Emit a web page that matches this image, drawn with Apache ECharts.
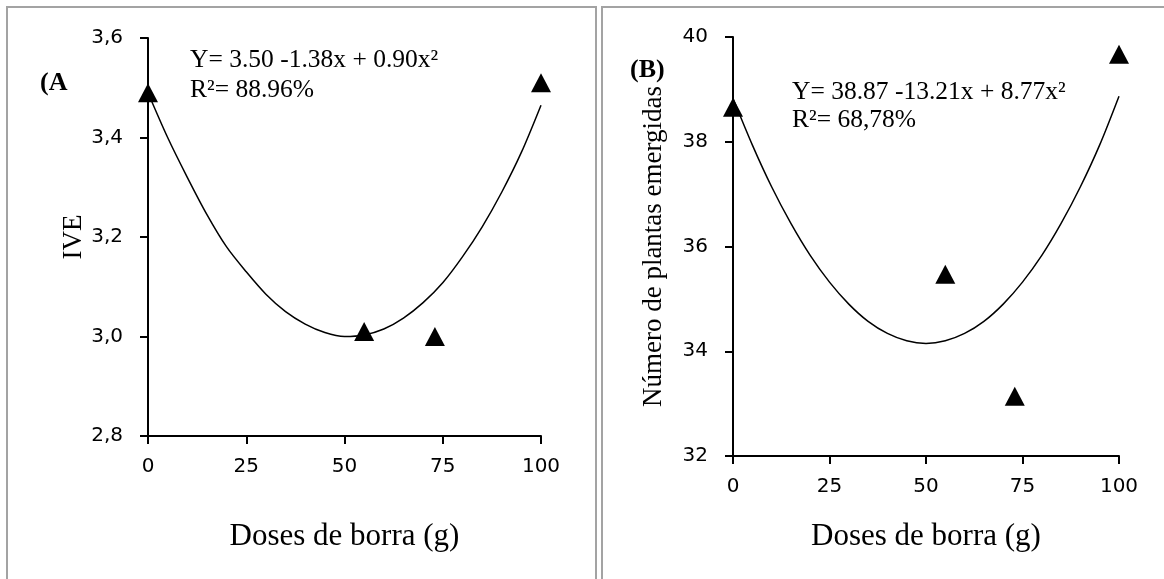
<!DOCTYPE html>
<html lang="pt">
<head>
    <meta charset="UTF-8">
    <title>IVE e plantas emergidas</title>
    <script src="https://cdn.jsdelivr.net/npm/echarts@6/dist/echarts.min.js"></script>
    <style>
        html, body { margin: 0; padding: 0; background: #fff; }
        #chart { width: 1164px; height: 579px; }
    </style>
</head>
<body>
<div id="chart"></div>
<script>
    // observed points (triangles)
    var doses = [0, 55, 73, 100];
    var iveObs = [3.49, 3.01, 3.00, 3.51];
    var plantasObs = [38.66, 35.47, 33.14, 39.67];

    // fitted curves, every 5 g
    var curveX = [0, 5, 10, 15, 20, 25, 30, 35, 40, 45, 50, 55, 60, 65, 70, 75, 80, 85, 90, 95, 100];
    var iveFit = [3.49, 3.40, 3.32, 3.245, 3.18, 3.13, 3.085, 3.05, 3.025, 3.008, 3.0,
                  3.003, 3.015, 3.037, 3.068, 3.108, 3.16, 3.22, 3.29, 3.37, 3.465];
    var plantasFit = [38.83, 37.94, 37.14, 36.44, 35.83, 35.32, 34.9, 34.57, 34.34, 34.2, 34.15,
                      34.2, 34.34, 34.57, 34.9, 35.32, 35.83, 36.44, 37.14, 37.94, 38.87];

    var xTitle = 'Doses de borra (g)';
    var yTitleA = 'IVE';
    var yTitleB = 'Número de plantas emergidas';
    var eqA = ['Y= 3.50 -1.38x + 0.90x²', 'R²= 88.96%'];
    var eqB = ['Y= 38.87 -13.21x + 8.77x²', 'R²= 68,78%'];

    var serif = '"Liberation Serif", "Times New Roman", serif';
    var sans = '"DejaVu Sans", sans-serif';

    function pairs(xs, ys) {
        return xs.map(function (x, i) { return [x, ys[i]]; });
    }

    function xAxisOpt(idx, gap) {
        return {
            type: 'value', gridIndex: idx, min: 0, max: 100, interval: 25,
            name: xTitle, nameLocation: 'middle', nameGap: gap,
            nameTextStyle: { fontFamily: serif, fontSize: 31, color: '#000' },
            axisLine: { lineStyle: { color: '#000', width: 2 } },
            axisTick: { length: 8, lineStyle: { color: '#000', width: 2 } },
            axisLabel: { margin: 21, fontFamily: sans, fontSize: 20, color: '#000' },
            splitLine: { show: false }
        };
    }

    function yAxisOpt(idx, min, max, step, title, gap, fmt) {
        return {
            type: 'value', gridIndex: idx, min: min, max: max, interval: step,
            name: title, nameLocation: 'middle', nameGap: gap, nameRotate: 90,
            nameTextStyle: { fontFamily: serif, fontSize: 27, color: '#000' },
            axisLine: { show: true, lineStyle: { color: '#000', width: 2 } },
            axisTick: { show: true, length: 8, lineStyle: { color: '#000', width: 2 } },
            axisLabel: { margin: 25, fontFamily: sans, fontSize: 20, color: '#000', formatter: fmt },
            splitLine: { show: false }
        };
    }

    function txt(x, y, s, font) {
        return { type: 'text', x: x, y: y, silent: true,
                 style: { text: s, font: font, fill: '#000', verticalAlign: 'middle' } };
    }

    var option = {
        animation: false,
        backgroundColor: '#fff',
        grid: [
            { left: 148, top: 38, width: 393, height: 398 },
            { left: 733, top: 37, width: 386, height: 419 }
        ],
        xAxis: [xAxisOpt(0, 85), xAxisOpt(1, 65)],
        yAxis: [
            yAxisOpt(0, 2.8, 3.6, 0.2, yTitleA, 60, function (v) { return v.toFixed(1).replace('.', ','); }),
            yAxisOpt(1, 32, 40, 2, yTitleB, 66, function (v) { return String(v); })
        ],
        graphic: [
            { type: 'rect', silent: true, shape: { x: 7, y: 7, width: 589, height: 620 },
              style: { fill: 'none', stroke: '#a3a3a3', lineWidth: 2 } },
            { type: 'rect', silent: true, shape: { x: 602, y: 7, width: 620, height: 620 },
              style: { fill: 'none', stroke: '#a3a3a3', lineWidth: 2 } },
            txt(40, 83, '(A', 'bold 26px ' + serif),
            txt(190, 60, eqA[0], '25.5px ' + serif),
            txt(190, 90, eqA[1], '25.5px ' + serif),
            txt(630, 70, '(B)', 'bold 26px ' + serif),
            txt(792, 92, eqB[0], '25.5px ' + serif),
            txt(792, 120, eqB[1], '25.5px ' + serif)
        ],
        series: [
            { type: 'line', xAxisIndex: 0, yAxisIndex: 0, data: pairs(curveX, iveFit),
              smooth: 0.3, showSymbol: false, lineStyle: { color: '#000', width: 1.5 } },
            { type: 'scatter', xAxisIndex: 0, yAxisIndex: 0, data: pairs(doses, iveObs),
              symbol: 'triangle', symbolSize: [20, 19], itemStyle: { color: '#000', opacity: 1 } },
            { type: 'line', xAxisIndex: 1, yAxisIndex: 1, data: pairs(curveX, plantasFit),
              smooth: 0.3, showSymbol: false, lineStyle: { color: '#000', width: 1.5 } },
            { type: 'scatter', xAxisIndex: 1, yAxisIndex: 1, data: pairs(doses, plantasObs),
              symbol: 'triangle', symbolSize: [20, 19], itemStyle: { color: '#000', opacity: 1 } }
        ]
    };

    var chart = echarts.init(document.getElementById('chart'));
    chart.setOption(option);
</script>
</body>
</html>
